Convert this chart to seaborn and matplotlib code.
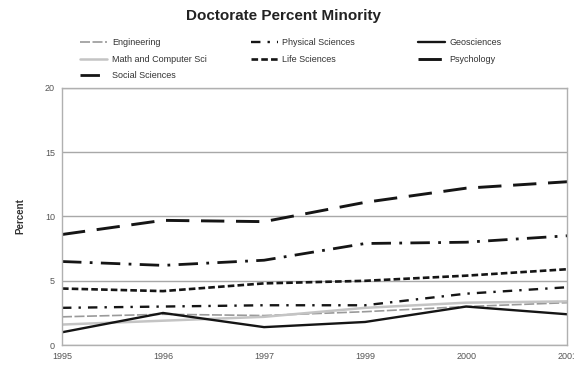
import matplotlib
matplotlib.use("Agg")
import matplotlib.pyplot as plt
import seaborn as sns
import pandas as pd

years = ["1995", "1996", "1997", "1999", "2000", "2001"]

engineering = [2.2, 2.4, 2.3, 2.6, 3.0, 3.3]
math_cs = [1.6, 1.9, 2.2, 2.9, 3.3, 3.4]
social_sciences = [6.5, 6.2, 6.6, 7.9, 8.0, 8.5]
physical_sciences = [2.9, 3.0, 3.1, 3.1, 4.0, 4.5]
life_sciences = [4.4, 4.2, 4.8, 5.0, 5.4, 5.9]
geosciences = [1.0, 2.5, 1.4, 1.8, 3.0, 2.4]
psychology = [8.6, 9.7, 9.6, 11.1, 12.2, 12.7]

series_names = ["Engineering", "Math and Computer Sci", "Social Sciences",
                "Physical Sciences", "Life Sciences", "Geosciences", "Psychology"]
series_values = [engineering, math_cs, social_sciences, physical_sciences,
                 life_sciences, geosciences, psychology]

# legend columns (left to right), as laid out above the plot
legend_columns = [["Engineering", "Math and Computer Sci", "Social Sciences"],
                  ["Physical Sciences", "Life Sciences"],
                  ["Geosciences", "Psychology"]]
legend_x = [0.140, 0.437, 0.728]

styles = {
    "Engineering": dict(color="#9a9a9a", lw=1.2, dashes=(6, 1.5)),
    "Math and Computer Sci": dict(color="#c4c4c4", lw=1.8, dashes=None),
    "Social Sciences": dict(color="#151515", lw=2.0, dashes=(7, 3, 1, 3)),
    "Physical Sciences": dict(color="#151515", lw=1.7, dashes=(4, 3, 1, 3)),
    "Life Sciences": dict(color="#151515", lw=1.9, dashes=(2.5, 1.2)),
    "Geosciences": dict(color="#151515", lw=1.7, dashes=None),
    "Psychology": dict(color="#151515", lw=2.1, dashes=(8, 4)),
}

df = pd.DataFrame(
    [(name, yr, v) for name, vals in zip(series_names, series_values)
     for yr, v in zip(years, vals)],
    columns=["Field", "Year", "Percent"],
)
df["pos"] = df["Year"].map({y: i for i, y in enumerate(years)})

sns.set_theme(style="white")
plt.rcParams["font.family"] = ["Liberation Sans", "DejaVu Sans"]

fig = plt.figure(figsize=(5.74, 3.66), dpi=100)
ax = fig.add_axes([0.108, 0.057, 0.880, 0.703])

line_handles = {}
for name in series_names:
    st = styles[name]
    sub = df[df["Field"] == name]
    sns.lineplot(data=sub, x="pos", y="Percent", ax=ax, color=st["color"],
                 linewidth=st["lw"], label=name, dashes=False, legend=False)
    ln = ax.lines[-1]
    if st["dashes"] is not None:
        ln.set_dashes(st["dashes"])
    line_handles[name] = ln

ax.set_xlim(0, len(years) - 1)
ax.set_ylim(0, 20)
ax.set_xticks(range(len(years)))
ax.set_xticklabels(years)
ax.set_yticks([0, 5, 10, 15, 20])
ax.yaxis.grid(True, color="#a8a8a8", lw=1.0)
ax.xaxis.grid(False)
for sp in ax.spines.values():
    sp.set_color("#b0b0b0")
    sp.set_linewidth(1.0)
ax.tick_params(axis="both", labelsize=6.5, colors="#555555", length=3,
               direction="out", pad=2)
ax.tick_params(axis="both", color="#b0b0b0")
ax.set_xlabel("")
ax.set_ylabel("Percent", fontsize=7, fontweight="bold", color="#333333", labelpad=14)

fig.suptitle("Doctorate Percent Minority", x=0.494, y=0.975, fontsize=11,
             fontweight="bold", color="#222222")

for col, x in zip(legend_columns, legend_x):
    fig.legend([line_handles[n] for n in col], col, loc="upper left",
               bbox_to_anchor=(x, 1 - 38 / 366), bbox_transform=fig.transFigure,
               frameon=False, fontsize=6.5, handlelength=3.0, handletextpad=0.5,
               labelspacing=0.85, borderpad=0, borderaxespad=0,
               labelcolor="#333333")

fig.savefig("out.png", dpi=100, facecolor="white")
